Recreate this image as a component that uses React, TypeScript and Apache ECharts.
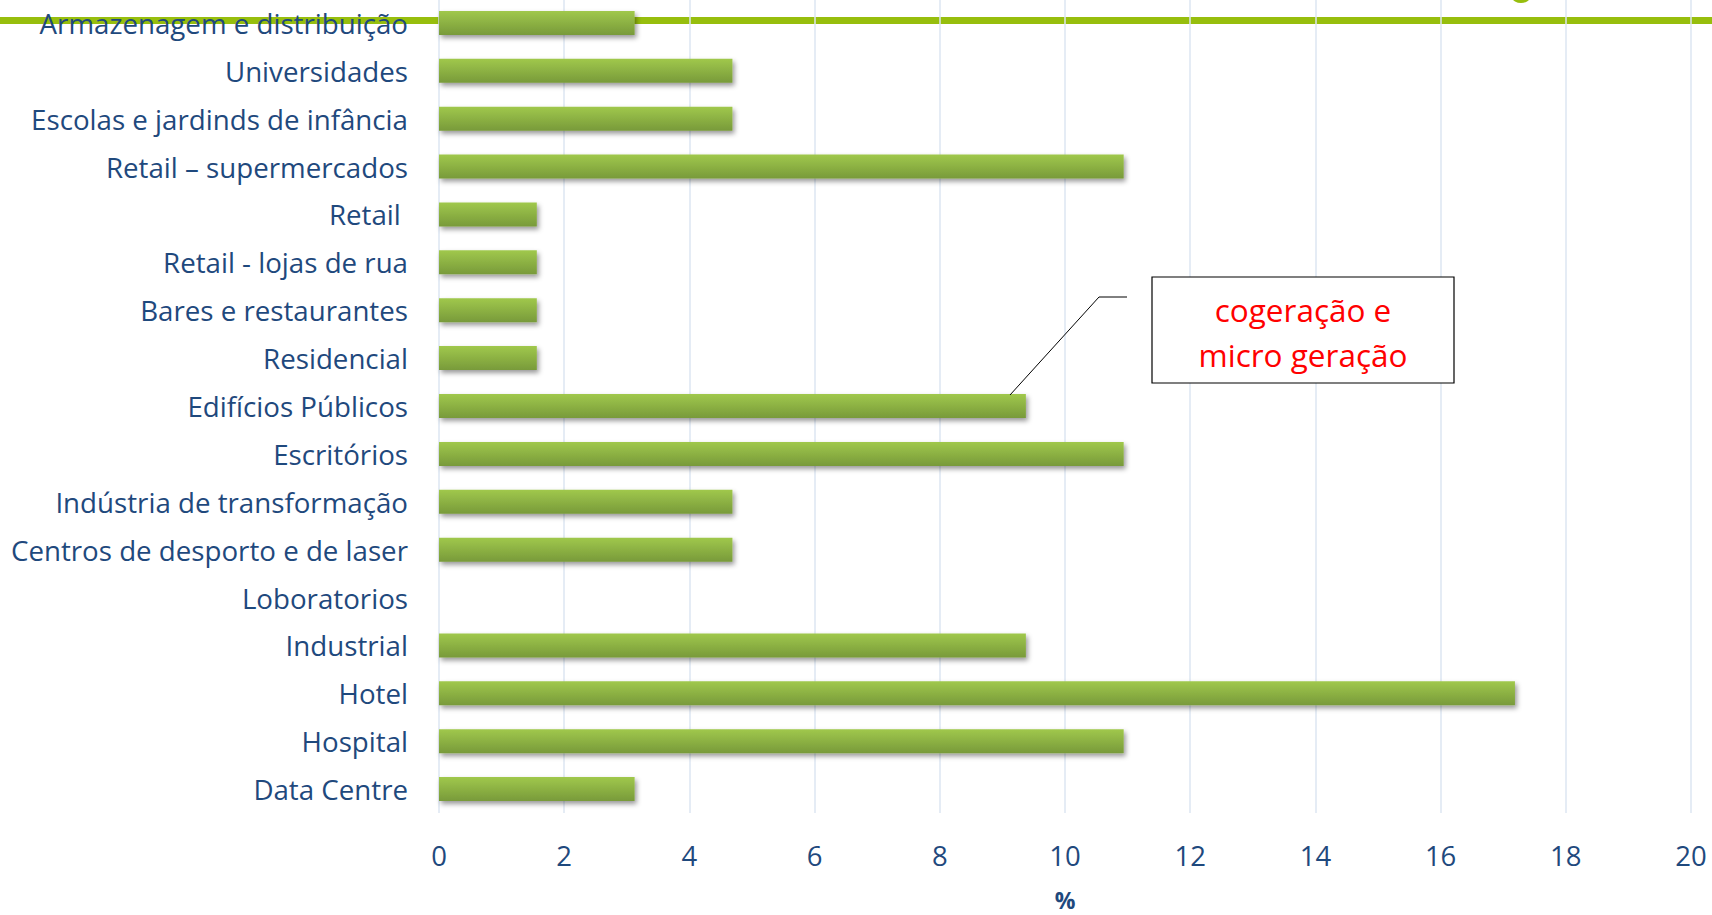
import React, { useEffect, useRef } from "react";
import * as echarts from "echarts";

const categories = [
  "Armazenagem e distribuição",
  "Universidades",
  "Escolas e jardinds de infância",
  "Retail – supermercados",
  "Retail ",
  "Retail - lojas de rua",
  "Bares e restaurantes",
  "Residencial",
  "Edifícios Públicos",
  "Escritórios",
  "Indústria de transformação",
  "Centros de desporto e de laser",
  "Loboratorios",
  "Industrial",
  "Hotel",
  "Hospital",
  "Data Centre",
];

const values = [
  3.125, 4.6875, 4.6875, 10.9375, 1.5625, 1.5625, 1.5625, 1.5625, 9.375,
  10.9375, 4.6875, 4.6875, 0, 9.375, 17.1875, 10.9375, 3.125,
];

const xTicks = [0, 2, 4, 6, 8, 10, 12, 14, 16, 18, 20];
const axisTitle = "%";
const noteLines = ["cogeração e", "micro geração"];

const FONT = "Open Sans";
const TEXT_BLUE = "#1F497D";

export default function App() {
  const ref = useRef<HTMLDivElement>(null);

  useEffect(() => {
    document.body.style.margin = "0";
    const chart = echarts.init(ref.current!, null, { renderer: "svg" });
    chart.setOption({
      animation: false,
      backgroundColor: "#ffffff",
      grid: {
        left: 439,
        right: 21,
        top: -1,
        bottom: 102,
        containLabel: false,
        outerBoundsMode: "none",
      },
      xAxis: {
        type: "value",
        min: xTicks[0],
        max: xTicks[xTicks.length - 1],
        interval: 2,
        name: axisTitle,
        nameLocation: "middle",
        nameGap: 75,
        nameTextStyle: {
          fontFamily: FONT,
          fontSize: 23,
          lineHeight: 23,
          fontWeight: "bold",
          color: TEXT_BLUE,
        },
        axisLine: { show: false },
        axisTick: { show: false },
        axisLabel: {
          fontFamily: FONT,
          fontSize: 27.5,
          color: TEXT_BLUE,
          margin: 28,
        },
        splitLine: { show: true, lineStyle: { color: "#DCE6F2", width: 1.5 } },
      },
      yAxis: {
        type: "category",
        data: categories,
        inverse: true,
        axisLine: { show: false },
        axisTick: { show: false },
        splitLine: { show: false },
        axisLabel: {
          fontFamily: FONT,
          fontSize: 27.7,
          color: TEXT_BLUE,
          margin: 31,
        },
      },
      series: [
        {
          type: "bar",
          data: values,
          barWidth: 24,
          itemStyle: {
            color: new echarts.graphic.LinearGradient(0, 0, 0, 1, [
              { offset: 0, color: "#A0C84C" },
              { offset: 1, color: "#789A3A" },
            ]),
            shadowColor: "rgba(0,0,0,0.4)",
            shadowBlur: 5,
            shadowOffsetX: 2,
            shadowOffsetY: 3,
          },
        },
      ],
      graphic: [
        {
          type: "rect",
          z: -10,
          shape: { x: 0, y: 17, width: 1712, height: 7 },
          style: { fill: "#97BE0D" },
        },
        {
          type: "circle",
          z: -10,
          shape: { cx: 1521, cy: -9, r: 12 },
          style: { fill: "#97BE0D" },
        },
        {
          type: "polyline",
          z: 50,
          shape: {
            points: [
              [1127, 297],
              [1099, 297],
              [1010, 395],
            ],
          },
          style: { stroke: "#000000", lineWidth: 1, fill: null },
        },
        {
          type: "rect",
          z: 50,
          shape: { x: 1152, y: 277, width: 302, height: 106 },
          style: { fill: "#ffffff", stroke: "#000000", lineWidth: 1.2 },
        },
        {
          type: "text",
          z: 51,
          x: 1303,
          y: 309,
          style: {
            text: noteLines[0],
            fill: "#FF0000",
            font: `31.5px "${FONT}"`,
            align: "center",
            verticalAlign: "middle",
          },
        },
        {
          type: "text",
          z: 51,
          x: 1303,
          y: 354,
          style: {
            text: noteLines[1],
            fill: "#FF0000",
            font: `31.5px "${FONT}"`,
            align: "center",
            verticalAlign: "middle",
          },
        },
      ],
    });
    return () => chart.dispose();
  }, []);

  return (
    <div
      ref={ref}
      style={{ position: "absolute", left: 0, top: 0, width: 1712, height: 915 }}
    />
  );
}
